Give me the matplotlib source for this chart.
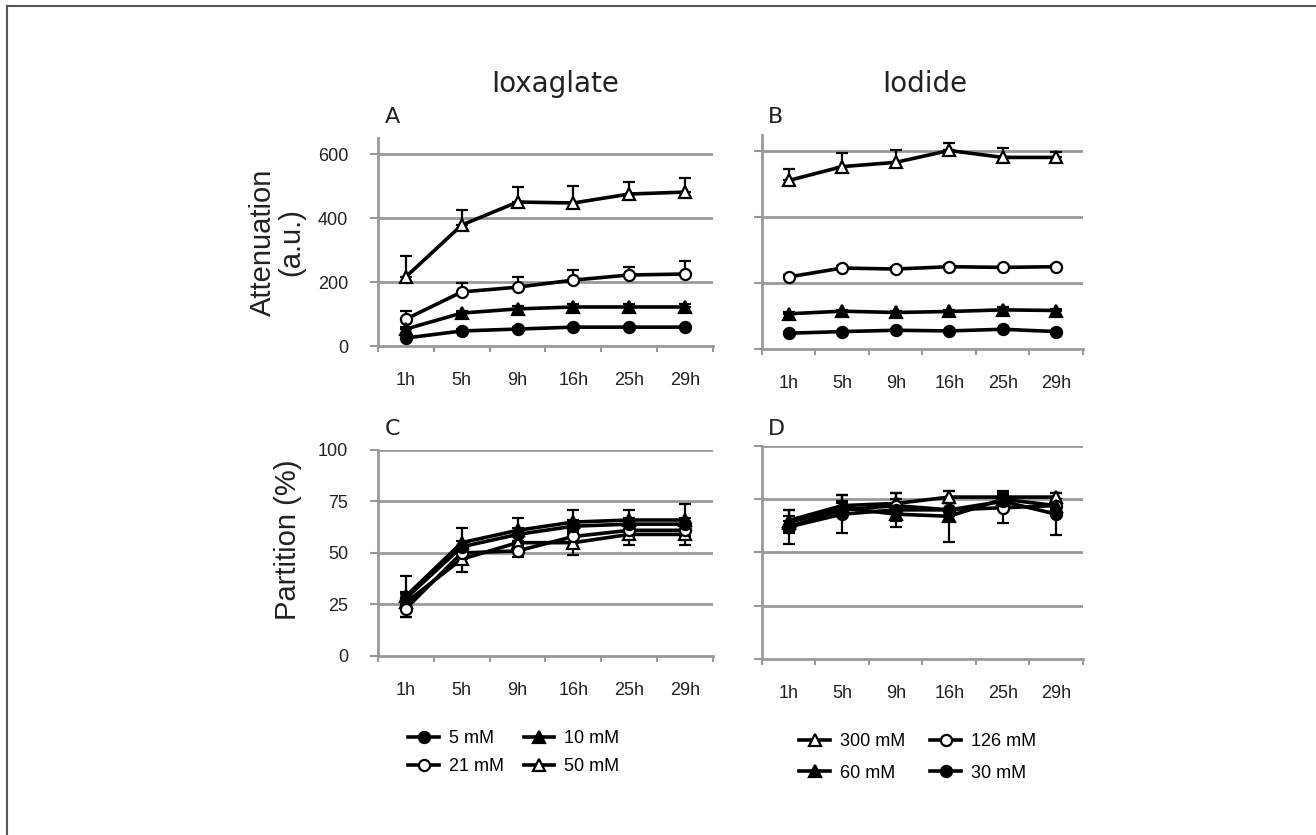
import matplotlib
matplotlib.use("Agg")
import matplotlib.pyplot as plt
from matplotlib.lines import Line2D
import numpy as np
from matplotlib import font_manager

times = ["1h", "5h", "9h", "16h", "25h", "29h"]

# Panel A - Ioxaglate attenuation (a.u.)
ioxa_att_50 = [216, 378, 450, 447, 475, 481]
ioxa_att_50_err = [65, 47, 47, 53, 37, 44]
ioxa_att_21 = [84, 169, 184, 206, 222, 225]
ioxa_att_21_err = [25, 28, 32, 31, 25, 41]
ioxa_att_10 = [53, 103, 116, 122, 122, 122]
ioxa_att_10_err = [8, 8, 8, 8, 8, 10]
ioxa_att_5 = [25, 47, 53, 59, 59, 59]
ioxa_att_5_err = [5, 5, 5, 5, 5, 5]

# Panel B - Iodide attenuation (a.u.)
iod_att_300 = [512, 554, 567, 603, 582, 582]
iod_att_300_err = [36, 40, 39, 24, 30, 15]
iod_att_126 = [219, 246, 243, 250, 248, 250]
iod_att_126_err = [5, 5, 5, 5, 5, 5]
iod_att_60 = [107, 115, 111, 114, 119, 117]
iod_att_60_err = [5, 5, 5, 5, 8, 5]
iod_att_30 = [48, 53, 57, 55, 60, 53]
iod_att_30_err = [3, 3, 3, 3, 3, 3]

# Panel C - Ioxaglate partition (%)
ioxa_part_5 = [28, 53, 59, 63, 64, 64]
ioxa_part_5_err = [3, 3, 3, 3, 3, 3]
ioxa_part_10 = [29, 55, 61, 65, 66, 66]
ioxa_part_10_err = [10, 7, 6, 6, 5, 8]
ioxa_part_21 = [23, 50, 51, 58, 61, 61]
ioxa_part_21_err = [4, 3, 3, 3, 3, 3]
ioxa_part_50 = [26, 47, 55, 55, 59, 59]
ioxa_part_50_err = [4, 6, 3, 6, 5, 5]

# Panel D - Iodide partition (%)
iod_part_300 = [65, 72, 73, 76, 76, 76]
iod_part_300_err = [5, 5, 5, 3, 3, 2]
iod_part_126 = [62, 70, 72, 70, 71, 72]
iod_part_126_err = [3, 3, 3, 3, 7, 3]
iod_part_60 = [64, 71, 68, 67, 75, 72]
iod_part_60_err = [3, 3, 3, 12, 3, 3]
iod_part_30 = [62, 68, 70, 70, 74, 68]
iod_part_30_err = [8, 9, 8, 3, 3, 10]

names = [f.name for f in font_manager.fontManager.ttflist]
narrow = "Liberation Sans Narrow" if "Liberation Sans Narrow" in names else "Liberation Sans"

GRID = "#9a9a9a"

fig = plt.figure(figsize=(13.16, 8.35), dpi=100)

# thin frame (only top/left visible in the crop)
fig.add_artist(Line2D([7 / 1316, 1.0], [1 - 6 / 835, 1 - 6 / 835], color="#555555", lw=1.5))
fig.add_artist(Line2D([7 / 1316, 7 / 1316], [0.0, 1 - 6 / 835], color="#555555", lw=1.5))

axA = fig.add_axes([0.2872, 0.5856, 0.2546, 0.2491])
axB = fig.add_axes([0.5790, 0.5820, 0.2439, 0.2563])
axC = fig.add_axes([0.2872, 0.2144, 0.2546, 0.2467])
axD = fig.add_axes([0.5790, 0.2108, 0.2439, 0.2551])

x = np.arange(len(times))

styles = {
    "fc": dict(marker="o", mfc="black"),
    "ft": dict(marker="^", mfc="black"),
    "oc": dict(marker="o", mfc="white"),
    "ot": dict(marker="^", mfc="white"),
}


def draw(ax, y, err, st, up_only):
    if up_only:
        yerr = [np.zeros(len(err)), err]
    else:
        yerr = err
    ax.errorbar(x, y, yerr=yerr, color="black", lw=2.6, ecolor="black",
                elinewidth=1.6, capsize=4, capthick=1.6, ms=8, mec="black",
                mew=1.6, zorder=3, **styles[st])


def style(ax, ymax, yticks):
    ax.set_xlim(-0.5, len(times) - 0.5)
    ax.set_ylim(0, ymax)
    for s in ["top", "right"]:
        ax.spines[s].set_visible(False)
    ax.spines["left"].set_color(GRID)
    ax.spines["left"].set_linewidth(2)
    ax.spines["bottom"].set_color(GRID)
    ax.spines["bottom"].set_linewidth(2)
    ax.set_yticks(yticks)
    ax.set_yticklabels([str(v) for v in yticks], fontfamily=narrow, fontsize=13, color="#222222")
    for v in yticks[1:]:
        ax.axhline(v, color=GRID, lw=2, zorder=1)
    ax.tick_params(axis="y", length=5.5, width=1.5, color=GRID, pad=16)
    ax.set_xticks(np.arange(-0.5, len(times)))
    ax.set_xticklabels([])
    ax.set_xticks(x, minor=True)
    ax.set_xticklabels(times, minor=True, fontfamily=narrow, fontsize=13, color="#222222")
    ax.tick_params(axis="x", which="major", length=4.5, width=1.5, color=GRID)
    ax.tick_params(axis="x", which="minor", length=0, pad=18.5)


draw(axA, ioxa_att_50, ioxa_att_50_err, "ot", True)
draw(axA, ioxa_att_21, ioxa_att_21_err, "oc", True)
draw(axA, ioxa_att_10, ioxa_att_10_err, "ft", True)
draw(axA, ioxa_att_5, ioxa_att_5_err, "fc", True)
style(axA, 650, [0, 200, 400, 600])

draw(axB, iod_att_300, iod_att_300_err, "ot", True)
draw(axB, iod_att_126, iod_att_126_err, "oc", True)
draw(axB, iod_att_60, iod_att_60_err, "ft", True)
draw(axB, iod_att_30, iod_att_30_err, "fc", True)
style(axB, 650, [0, 200, 400, 600])
axB.set_yticklabels([])

draw(axC, ioxa_part_50, ioxa_part_50_err, "ot", False)
draw(axC, ioxa_part_21, ioxa_part_21_err, "oc", False)
draw(axC, ioxa_part_5, ioxa_part_5_err, "fc", False)
draw(axC, ioxa_part_10, ioxa_part_10_err, "ft", False)
style(axC, 100, [0, 25, 50, 75, 100])

draw(axD, iod_part_300, iod_part_300_err, "ot", False)
draw(axD, iod_part_126, iod_part_126_err, "oc", False)
draw(axD, iod_part_60, iod_part_60_err, "ft", False)
draw(axD, iod_part_30, iod_part_30_err, "fc", False)
style(axD, 100, [0, 25, 50, 75, 100])
axD.set_yticklabels([])

# column titles and panel letters
fig.text(555 / 1316, 1 - 92 / 835, "Ioxaglate", fontsize=20, family="DejaVu Sans",
         ha="center", va="baseline", color="#222222")
fig.text(925 / 1316, 1 - 92 / 835, "Iodide", fontsize=20, family="DejaVu Sans",
         ha="center", va="baseline", color="#222222")
for lx, ly, lab in [(385, 123, "A"), (768, 123, "B"), (385, 435, "C"), (768, 435, "D")]:
    fig.text(lx / 1316, 1 - ly / 835, lab, fontsize=16, family="DejaVu Sans",
             ha="left", va="baseline", color="#222222")

fig.text(277 / 1316, 1 - 242 / 835, "Attenuation\n(a.u.)", rotation=90, fontsize=21,
         family="Liberation Sans", ha="center", va="center", linespacing=1.0, color="#222222")
fig.text(288 / 1316, 1 - 540 / 835, "Partition (%)", rotation=90, fontsize=21,
         family="Liberation Sans", ha="center", va="center", color="#222222")


def handle(st, lab):
    return Line2D([], [], color="black", lw=2.6, ms=8, mec="black", mew=1.6,
                  label=lab, **styles[st])


leg_left = [handle("fc", "5 mM"), handle("oc", "21 mM"), handle("ft", "10 mM"), handle("ot", "50 mM")]
leg_right = [handle("ot", "300 mM"), handle("ft", "60 mM"), handle("oc", "126 mM"), handle("fc", "30 mM")]

fig.legend(handles=leg_left, ncol=2, loc="upper left", bbox_to_anchor=(392 / 1316, 1 - 714 / 835),
           frameon=False, prop={"family": narrow, "size": 13}, handlelength=1.7,
           columnspacing=1.1, labelspacing=0.6, handletextpad=0.55)
fig.legend(handles=leg_right, ncol=2, loc="upper left", bbox_to_anchor=(783 / 1316, 1 - 717 / 835),
           frameon=False, prop={"family": narrow, "size": 13}, handlelength=1.7,
           columnspacing=1.4, labelspacing=0.8, handletextpad=0.55)

fig.savefig("out.png", dpi=100)
